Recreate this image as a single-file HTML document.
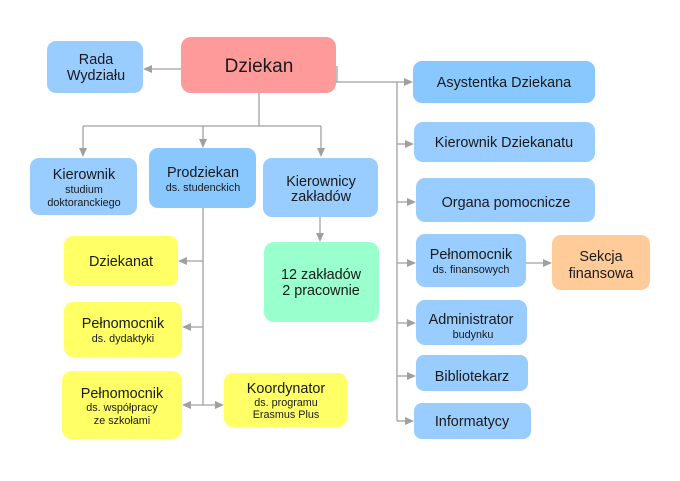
<!DOCTYPE html>
<html><head><meta charset="utf-8">
<style>
html,body{margin:0;padding:0;background:#fff;}
svg{display:block;}
text{font-family:"Liberation Sans",Arial,sans-serif;fill:#1a1a1a;text-anchor:middle;}
.m{font-size:14.4px;}
.s{font-size:10.8px;}
.ln{stroke:#a0a0a0;stroke-width:1.3;fill:none;}
.ah{fill:#a0a0a0;}
</style></head>
<body>
<svg width="680" height="481" viewBox="0 0 680 481" xmlns="http://www.w3.org/2000/svg">
<!-- connectors -->
<g class="ln">
  <line x1="181" y1="69" x2="150" y2="69"/>
  <line x1="259" y1="93" x2="259" y2="126"/>
  <line x1="83" y1="126" x2="321" y2="126"/>
  <line x1="83" y1="126" x2="83" y2="150"/>
  <line x1="203" y1="126" x2="203" y2="140"/>
  <line x1="321" y1="126" x2="321" y2="150"/>
  <line x1="337" y1="66" x2="337" y2="82"/>
  <line x1="336" y1="82" x2="405" y2="82"/>
  <line x1="397" y1="82" x2="397" y2="421"/>
  <line x1="397" y1="144" x2="406" y2="144"/>
  <line x1="397" y1="202" x2="407" y2="202"/>
  <line x1="397" y1="263" x2="407" y2="263"/>
  <line x1="397" y1="323" x2="407" y2="323"/>
  <line x1="397" y1="376" x2="407" y2="376"/>
  <line x1="397" y1="421" x2="405" y2="421"/>
  <line x1="526" y1="263" x2="543" y2="263"/>
  <line x1="203" y1="208" x2="203" y2="405"/>
  <line x1="203" y1="261" x2="186" y2="261"/>
  <line x1="203" y1="327" x2="190" y2="327"/>
  <line x1="190" y1="405" x2="216" y2="405"/>
  <line x1="320" y1="217" x2="320" y2="234"/>
</g>
<!-- arrowheads -->
<g class="ah">
  <polygon points="143,69 152,65 152,73"/>
  <polygon points="83,157 79,148 87,148"/>
  <polygon points="203,148 199,139 207,139"/>
  <polygon points="321,157 317,148 325,148"/>
  <polygon points="413,82 404,78 404,86"/>
  <polygon points="414,144 405,140 405,148"/>
  <polygon points="416,202 407,198 407,206"/>
  <polygon points="416,263 407,259 407,267"/>
  <polygon points="416,323 407,319 407,327"/>
  <polygon points="416,376 407,372 407,380"/>
  <polygon points="414,421 405,417 405,425"/>
  <polygon points="552,263 543,259 543,267"/>
  <polygon points="178,261 187,257 187,265"/>
  <polygon points="182,327 191,323 191,331"/>
  <polygon points="182,405 191,401 191,409"/>
  <polygon points="224,405 215,401 215,409"/>
  <polygon points="320,242 316,233 324,233"/>
</g>
<!-- boxes -->
<rect x="181" y="37" width="155" height="56" rx="10" fill="#ff9a9a"/>
<text x="259" y="72" style="font-size:19px">Dziekan</text>

<rect x="47" y="41" width="96" height="52" rx="9" fill="#99ccff"/>
<text class="m" x="96" y="64">Rada</text>
<text class="m" x="96" y="80">Wydziału</text>

<rect x="30" y="158" width="107" height="57" rx="9" fill="#99ccff"/>
<text class="m" x="84" y="179">Kierownik</text>
<text class="s" x="84" y="193">studium</text>
<text class="s" x="84" y="206">doktoranckiego</text>

<rect x="149" y="148" width="107" height="60" rx="9" fill="#88c8ff"/>
<text class="m" x="203" y="177">Prodziekan</text>
<text class="s" x="203" y="191">ds. studenckich</text>

<rect x="263" y="158" width="115" height="59" rx="9" fill="#99ccff"/>
<text class="m" x="321" y="186">Kierownicy</text>
<text class="m" x="321" y="201">zakładów</text>

<rect x="264" y="242" width="115" height="80" rx="10" fill="#99ffcc"/>
<text class="m" x="321" y="279">12 zakładów</text>
<text class="m" x="321" y="295">2 pracownie</text>

<rect x="64" y="236" width="114" height="50" rx="9" fill="#ffff66"/>
<text class="m" x="121" y="266">Dziekanat</text>

<rect x="64" y="302" width="118" height="55" rx="9" fill="#ffff66"/>
<text class="m" x="123" y="328">Pełnomocnik</text>
<text class="s" x="123" y="342">ds. dydaktyki</text>

<rect x="62" y="371" width="120" height="68" rx="10" fill="#ffff66"/>
<text class="m" x="122" y="398">Pełnomocnik</text>
<text class="s" x="122" y="411">ds. współpracy</text>
<text class="s" x="122" y="424">ze szkołami</text>

<rect x="224" y="373" width="123" height="54" rx="9" fill="#ffff66"/>
<text class="m" x="286" y="393">Koordynator</text>
<text class="s" x="286" y="406">ds. programu</text>
<text class="s" x="286" y="418">Erasmus Plus</text>

<rect x="413" y="61" width="182" height="42" rx="9" fill="#88c8ff"/>
<text class="m" x="504" y="87">Asystentka Dziekana</text>

<rect x="414" y="122" width="181" height="40" rx="9" fill="#99ccff"/>
<text class="m" x="504" y="147">Kierownik Dziekanatu</text>

<rect x="416" y="178" width="179" height="44" rx="9" fill="#99ccff"/>
<text class="m" x="506" y="207">Organa pomocnicze</text>

<rect x="416" y="234" width="110" height="53" rx="9" fill="#99ccff"/>
<text class="m" x="471" y="259">Pełnomocnik</text>
<text class="s" x="471" y="273">ds. finansowych</text>

<rect x="552" y="235" width="98" height="55" rx="9" fill="#ffcc99"/>
<text class="m" x="601" y="261">Sekcja</text>
<text class="m" x="601" y="278">finansowa</text>

<rect x="416" y="300" width="111" height="45" rx="9" fill="#99ccff"/>
<text class="m" x="471" y="324">Administrator</text>
<text class="s" x="473" y="338">budynku</text>

<rect x="416" y="355" width="112" height="36" rx="8" fill="#99ccff"/>
<text class="m" x="472" y="381">Bibliotekarz</text>

<rect x="414" y="403" width="117" height="36" rx="8" fill="#99ccff"/>
<text class="m" x="472" y="426">Informatycy</text>
</svg>
</body></html>
